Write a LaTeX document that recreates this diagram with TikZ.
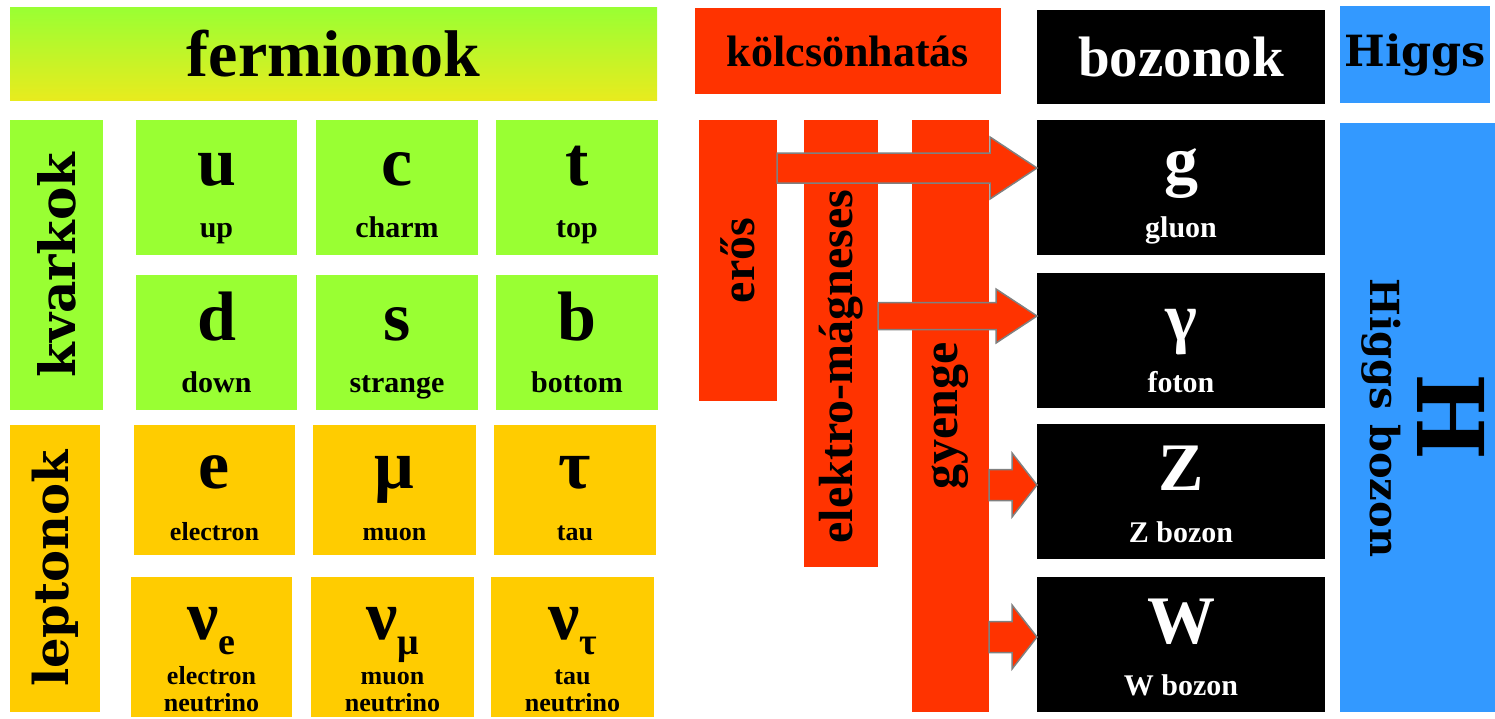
\documentclass[tikz,border=0pt]{standalone}
\usepackage{fontspec}
\newfontfamily\tms{Liberation Serif}
\newfontfamily\dvs{DejaVu Serif}
\usetikzlibrary{fit,calc}
\definecolor{qgreen}{RGB}{153,255,51}
\definecolor{lyellow}{RGB}{255,204,0}
\definecolor{ired}{RGB}{255,51,0}
\definecolor{hblue}{RGB}{51,153,255}
\definecolor{bantop}{RGB}{153,255,51}
\definecolor{banbot}{RGB}{232,235,30}
\definecolor{arrgray}{RGB}{128,128,128}
\newcommand{\fs}[1]{\fontsize{#1}{#1}\selectfont}
\newcommand{\fatarrow}[5]{%
  \filldraw[fill=ired,draw=arrgray,line width=1.5pt,line join=miter]
  let \p1=(#1),\p2=(#2) in
  (\x1,\y1+#3) -- (\x2-#5,\y1+#3) -- (\x2-#5,\y1+#4) -- (\x2,\y1)
  -- (\x2-#5,\y1-#4) -- (\x2-#5,\y1-#3) -- (\x1,\y1-#3) -- cycle;}
\tikzset{
  box/.style={inner sep=0pt,outer sep=0pt,draw=none},
  qbox/.style={box,fill=qgreen},
  lbox/.style={box,fill=lyellow},
  rbox/.style={box,fill=ired},
  bbox/.style={box,fill=black},
  hbox/.style={box,fill=hblue},
  head/.style={inner sep=0pt},
  sym/.style={inner sep=0pt,anchor=base,font=\tms\bfseries\fs{70}},
  qname/.style={inner sep=0pt,anchor=base,font=\tms\bfseries\fs{30}},
  lname/.style={inner sep=0pt,anchor=base,font=\tms\bfseries\fs{26}},
  bsym/.style={sym,text=white,font=\tms\bfseries\fs{68}},
  bname/.style={qname,text=white},
}
\begin{document}
\begin{tikzpicture}[x=1pt,y=-1pt]
\useasboundingbox (0,0) rectangle (1495,718);
% headers
\node[box,fit={(10,7)(657,100)},top color=bantop,bottom color=banbot] (ferm) {};
\node[head,font=\tms\bfseries\fs{66}] at (ferm.center) {fermionok};
\node[rbox,fit={(695,8)(1001,94)}] (kolcs) {};
\node[head,font=\tms\bfseries\fs{44}] at (kolcs.center) {kölcsönhatás};
\node[bbox,fit={(1037,10)(1325,104)}] (bozonok) {};
\node[head,text=white,font=\tms\bfseries\fs{57}] at (bozonok.center) {bozonok};
\node[hbox,fit={(1340,6)(1490,103)}] (higgsh) {};
\node[head,font=\dvs\bfseries\fs{43}] at (higgsh.center) {Higgs};
% side labels
\node[qbox,fit={(10,120)(103,410)}] (kvark) {};
\node[head,rotate=90,font=\dvs\bfseries\fs{50}] at (kvark.center) {kvarkok};
\node[lbox,fit={(10,425)(100,712)}] (lepton) {};
\node[head,rotate=90,font=\dvs\bfseries\fs{48}] at (lepton.center) {leptonok};
% quarks
\node[qbox,fit={(136,120)(297,255)}] (u) {};
\node[qbox,fit={(316,120)(478,255)}] (c) {};
\node[qbox,fit={(496,120)(658,255)}] (t) {};
\node[qbox,fit={(136,275)(297,410)}] (d) {};
\node[qbox,fit={(316,275)(478,410)}] (s) {};
\node[qbox,fit={(496,275)(658,410)}] (b) {};
\foreach \n/\sy/\nm in {u/u/up,c/c/charm,t/t/top,d/d/down,s/s/strange,b/b/bottom}{
  \node[sym] at ($(\n.north)+(0,65)$) {\sy};
  \node[qname] at ($(\n.north)+(0,117)$) {\nm};
}
% leptons
\node[lbox,fit={(134,425)(295,555)}] (e) {};
\node[lbox,fit={(313,425)(476,555)}] (mu) {};
\node[lbox,fit={(494,425)(656,555)}] (tau) {};
\foreach \n/\sy/\nm in {e/e/electron,mu/μ/muon,tau/τ/tau}{
  \node[sym] at ($(\n.north)+(0,63)$) {\sy};
  \node[lname] at ($(\n.north)+(0,115)$) {\nm};
}
\node[lbox,fit={(131,577)(292,717)}] (nue) {};
\node[lbox,fit={(311,577)(474,717)}] (numu) {};
\node[lbox,fit={(491,577)(654,717)}] (nutau) {};
\foreach \n/\sb/\nm in {nue/e/electron,numu/μ/muon,nutau/τ/tau}{
  \node[sym] at ($(\n.north)+(0,62)$) {ν\raisebox{-15pt}{\fs{38}\sb}};
  \node[lname] at ($(\n.north)+(0,107)$) {\nm};
  \node[lname] at ($(\n.north)+(0,134)$) {neutrino};
}
% interaction bars
\node[rbox,fit={(699,120)(777,401)}] (eros) {};
\node[head,rotate=90,font=\tms\bfseries\fs{48}] at (eros.center) {erős};
\node[rbox,fit={(804,120)(878,567)}] (em) {};
\node[head,rotate=90,font=\tms\bfseries\fs{48}] at ($(em.center)+(0,23)$) {elektro-mágneses};
\node[rbox,fit={(912,120)(989,712)}] (gyenge) {};
\node[head,rotate=90,font=\tms\bfseries\fs{50}] at (gyenge.center) {gyenge};
% bosons
\node[bbox,fit={(1037,120)(1325,255)}] (g) {};
\node[bbox,fit={(1037,273)(1325,408)}] (gamma) {};
\node[bbox,fit={(1037,424)(1325,559)}] (Z) {};
\node[bbox,fit={(1037,577)(1325,712)}] (W) {};
\node[bsym] at ($(g.north)+(0,63)$) {g};
\node[bname] at ($(g.north)+(0,117)$) {gluon};
\node[bsym] at ($(gamma.north)+(0,67)$) {γ};
\node[bname] at ($(gamma.north)+(0,119)$) {foton};
\node[bsym] at ($(Z.north)+(0,66)$) {Z};
\node[bname] at ($(Z.north)+(0,118)$) {Z bozon};
\node[bsym] at ($(W.north)+(0,66)$) {W};
\node[bname] at ($(W.north)+(0,118)$) {W bozon};
% Higgs
\node[hbox,fit={(1340,123)(1495,712)}] (H) {};
\node[head,rotate=-90,font=\dvs\bfseries\fs{40}] at (1381,418) {Higgs bozon};
\node[head,rotate=-90,font=\dvs\bfseries\fs{92}] at (1451,417) {H};
% arrows
\coordinate (ay1) at (0,168);
\coordinate (ay2) at (0,316);
\coordinate (ay3) at (0,485);
\coordinate (ay4) at (0,637);
\fatarrow{eros.east |- ay1}{g.west |- ay1}{15pt}{31pt}{47pt}
\fatarrow{em.east |- ay2}{gamma.west |- ay2}{13.5pt}{27pt}{41pt}
\fatarrow{gyenge.east |- ay3}{Z.west |- ay3}{15.5pt}{32pt}{25pt}
\fatarrow{gyenge.east |- ay4}{W.west |- ay4}{15.5pt}{32pt}{25pt}
\end{tikzpicture}
\end{document}
